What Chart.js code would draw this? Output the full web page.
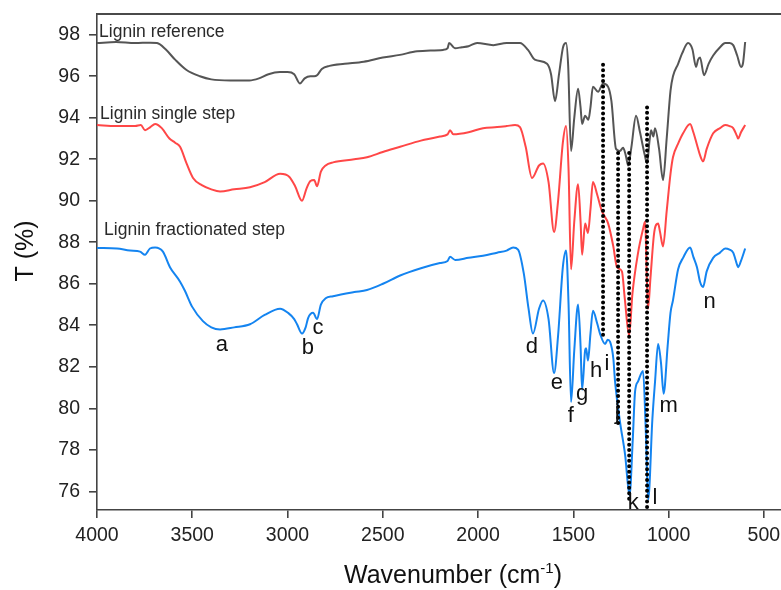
<!DOCTYPE html>
<html><head><meta charset="utf-8">
<script src="https://cdn.jsdelivr.net/npm/chart.js@4.4.1/dist/chart.umd.min.js"></script>
<style>html,body{margin:0;padding:0;background:#fff;}#wrap{width:781px;height:590px;}</style>
</head><body><div id="wrap"><canvas id="c" width="781" height="590"></canvas></div>
<script>
// ---- Data (wavenumber in cm-1, transmittance in %) ----
const refWn = [4000,3900,3800,3720,3685,3640,3590,3530,3460,3400,3300,3200,3150,3100,3040,3000,2965,2935,2910,2880,2860,2845,2820,2780,2700,2600,2500,2410,2320,2184,2160,2152,2121,2085,2050,2005,1920,1850,1780,1738,1702,1638,1617,1596,1575,1554,1538,1527,1512,1495,1475,1462,1454,1438,1421,1410,1397,1370,1344,1318,1300,1276,1255,1239,1225,1212,1195,1171,1150,1125,1113,1100,1092,1080,1071,1050,1029,1010,990,977,950,929,898,875,856,845,835,814,790,766,730,703,680,661,640,620,610,598];
const refT  = [97.6,97.65,97.6,97.62,97.6,97.3,96.8,96.3,96.0,95.85,95.8,95.8,95.9,96.1,96.2,96.2,96.1,95.65,95.9,96.0,96.0,96.05,96.35,96.5,96.6,96.7,96.9,97.03,97.2,97.27,97.35,97.6,97.35,97.4,97.45,97.6,97.5,97.6,97.6,97.27,96.8,96.6,96.1,94.8,96.1,97.4,97.6,96.5,92.4,94.0,95.4,94.5,93.7,94.1,93.9,94.5,95.5,95.25,95.65,95.5,94.8,92.5,92.4,92.55,92.2,91.7,92.6,94.1,93.3,92.2,91.8,92.9,93.4,93.1,93.5,92.5,91.0,93.0,95.3,96.0,96.6,97.1,97.6,97.3,96.45,96.8,96.9,96.05,96.6,97.0,97.4,97.6,97.6,97.5,97.0,96.45,96.6,97.65];

const singleWn = [4000,3900,3800,3770,3748,3720,3695,3660,3620,3590,3564,3530,3496,3450,3400,3354,3280,3197,3120,3039,2990,2960,2924,2900,2880,2860,2845,2825,2800,2761,2650,2583,2500,2409,2300,2200,2160,2147,2130,2050,1974,1900,1850,1806,1780,1750,1717,1680,1659,1630,1601,1580,1555,1538,1525,1512,1495,1475,1462,1454,1438,1423,1410,1397,1375,1350,1317,1290,1271,1245,1230,1207,1190,1160,1135,1123,1115,1108,1095,1075,1055,1045,1029,1010,990,977,950,924,887,870,851,835,819,800,766,730,703,680,661,640,635,620,598];
const singleT  = [93.65,93.6,93.6,93.65,93.4,93.55,93.7,93.5,93.0,92.8,92.6,91.8,91.1,90.75,90.55,90.45,90.55,90.65,90.9,91.3,91.15,90.7,90.0,90.6,90.95,91.0,90.7,91.4,91.7,91.85,92.0,92.1,92.35,92.6,92.9,93.1,93.2,93.4,93.2,93.3,93.5,93.55,93.6,93.65,93.55,92.6,91.1,91.7,91.8,90.9,88.5,90.0,92.8,93.6,91.5,86.7,89.0,90.8,89.0,87.4,88.9,88.45,89.6,90.9,90.3,89.5,88.9,87.8,86.8,86.6,85.3,83.5,85.5,87.5,88.6,89.0,86.5,84.8,86.3,88.5,88.9,88.5,87.8,89.5,91.3,92.1,92.75,93.25,93.7,93.3,92.7,92.2,91.9,92.5,93.25,93.5,93.65,93.6,93.5,93.1,93.0,93.3,93.65];

const fracWn = [4000,3895,3827,3774,3748,3722,3695,3654,3617,3564,3538,3501,3444,3400,3354,3280,3197,3120,3039,2997,2965,2950,2924,2905,2892,2866,2845,2825,2800,2761,2650,2583,2499,2409,2300,2200,2160,2147,2120,2050,1974,1900,1850,1816,1790,1760,1735,1712,1680,1659,1630,1601,1580,1555,1538,1525,1512,1495,1475,1462,1454,1438,1433,1423,1410,1397,1375,1360,1333,1320,1307,1290,1281,1255,1228,1205,1188,1176,1160,1134,1120,1107,1085,1071,1055,1040,1026,1005,990,977,950,924,887,870,851,835,819,800,766,730,703,680,661,640,635,620,598];
const fracT  = [87.73,87.7,87.6,87.55,87.4,87.7,87.75,87.55,86.8,86.1,85.65,84.9,84.2,83.9,83.8,83.9,84.05,84.5,84.8,84.6,84.3,84.05,83.6,83.9,84.35,84.6,84.3,85.0,85.3,85.4,85.6,85.7,86.0,86.4,86.75,87.0,87.1,87.3,87.15,87.25,87.35,87.5,87.6,87.75,87.65,86.5,84.8,83.6,84.8,85.2,84.3,81.7,83.5,86.8,87.6,85.0,80.3,82.8,85.0,83.0,80.9,82.8,82.9,82.3,83.6,84.7,84.1,83.6,83.1,83.3,83.2,82.4,81.3,79.35,77.75,75.8,78.5,80.8,81.3,81.8,79.0,75.6,79.5,81.3,83.1,82.2,80.7,83.0,84.6,85.2,86.7,87.25,87.75,87.3,86.8,86.1,85.85,86.6,87.25,87.5,87.7,87.65,87.5,86.9,86.8,87.1,87.7];

// dotted marker lines
const markerWn = [1344,1265,1207,1113];
const markerTop = [96.55,92.3,92.3,94.5];
const markerBottom = [83.4,79.1,75.6,75.1];

// tick labels
const xTicks = [4000,3500,3000,2500,2000,1500,1000,500];
const yTicks = [76,78,80,82,84,86,88,90,92,94,96,98];

// text annotations
const seriesNames = ['Lignin reference','Lignin single step','Lignin fractionated step'];
const seriesNameWn = [3989,3984,3963];
const seriesNameT = [97.9,93.93,88.36];
const peakLetters = ['a','b','c','d','e','f','g','h','i','j','k','l','m','n'];
const peakLetterWn = [3344,2893,2840,1717,1586,1513,1454,1380,1323,1270,1186,1071,1000,785];
const peakLetterT  = [82.75,82.6,83.57,82.65,80.95,79.36,80.42,81.53,81.87,79.5,75.14,75.38,79.8,84.83];

// ---- build ----
const pts = (xs, ys) => xs.map((v,i)=>({x:v, y:ys[i]}));
const FONT = '"Liberation Sans", Arial, Helvetica, sans-serif';
const series = [
  {wn:refWn, t:refT, color:'#555555'},
  {wn:singleWn, t:singleT, color:'#ff4747'},
  {wn:fracWn, t:fracT, color:'#1484f0'}
];
const datasets = series.map(s=>({
  data: pts(s.wn, s.t), borderColor: s.color, borderWidth: 2, pointRadius: 0,
  cubicInterpolationMode: 'monotone', fill: false, order: 1
}));
markerWn.forEach((w,i)=>{
  datasets.push({
    data: [{x:w, y:markerTop[i]},{x:w, y:markerBottom[i]}],
    borderColor:'#000', borderWidth:4, borderDash:[0,5.4], borderCapStyle:'round',
    pointRadius:0, tension:0, fill:false, order:0
  });
});

const overlay = {
  id:'overlay',
  afterDraw(chart){
    const {ctx, chartArea:a, scales:{x, y}} = chart;
    ctx.save();
    ctx.strokeStyle = '#4a4a4a'; ctx.lineWidth = 2;
    ctx.beginPath(); ctx.moveTo(a.left, a.top); ctx.lineTo(a.right, a.top); ctx.stroke();

    ctx.fillStyle = '#2a2a2a';
    ctx.font = '17.5px ' + FONT; ctx.textAlign = 'left'; ctx.textBaseline = 'alphabetic';
    seriesNames.forEach((n,i)=>ctx.fillText(n, x.getPixelForValue(seriesNameWn[i]), y.getPixelForValue(seriesNameT[i])));

    ctx.fillStyle = '#111';
    ctx.font = '22px ' + FONT; ctx.textAlign = 'center';
    peakLetters.forEach((n,i)=>ctx.fillText(n, x.getPixelForValue(peakLetterWn[i]), y.getPixelForValue(peakLetterT[i])));

    // x title
    ctx.font = '25px ' + FONT; ctx.textAlign = 'left';
    const main = 'Wavenumber (cm', sup = '-1', close = ')';
    const w1 = ctx.measureText(main).width;
    ctx.font = '15px ' + FONT; const w2 = ctx.measureText(sup).width;
    ctx.font = '25px ' + FONT; const w3 = ctx.measureText(close).width;
    const total = w1 + w2 + w3;
    const cx = 453, base = 583;
    let sx = cx - total/2;
    ctx.fillText(main, sx, base);
    ctx.font = '15px ' + FONT; ctx.fillText(sup, sx + w1, base - 10);
    ctx.font = '25px ' + FONT; ctx.fillText(close, sx + w1 + w2, base);

    // y title
    ctx.translate(33, 251); ctx.rotate(-Math.PI/2);
    ctx.textAlign = 'center'; ctx.textBaseline = 'alphabetic';
    ctx.fillText('T (%)', 0, 0);
    ctx.restore();
  }
};

new Chart(document.getElementById('c'), {
  type: 'line',
  data: { datasets },
  options: {
    responsive: false, animation: false, devicePixelRatio: 1,
    layout: { padding: { top: 14, right: 0, left: 0, bottom: 0 } },
    plugins: { legend: {display:false}, tooltip: {enabled:false} },
    scales: {
      x: {
        type: 'linear', reverse: true, min: 410, max: 4000,
        afterBuildTicks: s => { s.ticks = xTicks.map(v=>({value:v})); },
        afterFit: s => { s.height = 80; s.paddingLeft = 0; s.paddingRight = 0; },
        border: { display: true, color: '#444', width: 1.6 },
        grid: { display: true, drawOnChartArea: false, drawTicks: true, tickLength: 8, color: '#444', lineWidth: 1.6 },
        ticks: { color: '#222', font: { family: FONT, size: 19.5 }, padding: 6, maxRotation: 0, autoSkip: false,
                 callback: v => String(v) }
      },
      y: {
        type: 'linear', min: 75.1, max: 99,
        afterBuildTicks: s => { s.ticks = yTicks.map(v=>({value:v})); },
        afterFit: s => { s.width = 97; s.paddingTop = 0; s.paddingBottom = 0; },
        border: { display: true, color: '#444', width: 1.6 },
        grid: { display: true, drawOnChartArea: false, drawTicks: true, tickLength: 8, color: '#444', lineWidth: 1.6 },
        ticks: { color: '#222', font: { family: FONT, size: 19.5 }, padding: 9, autoSkip: false,
                 callback: v => String(v) }
      }
    }
  },
  plugins: [overlay]
});
</script>
</body></html>
